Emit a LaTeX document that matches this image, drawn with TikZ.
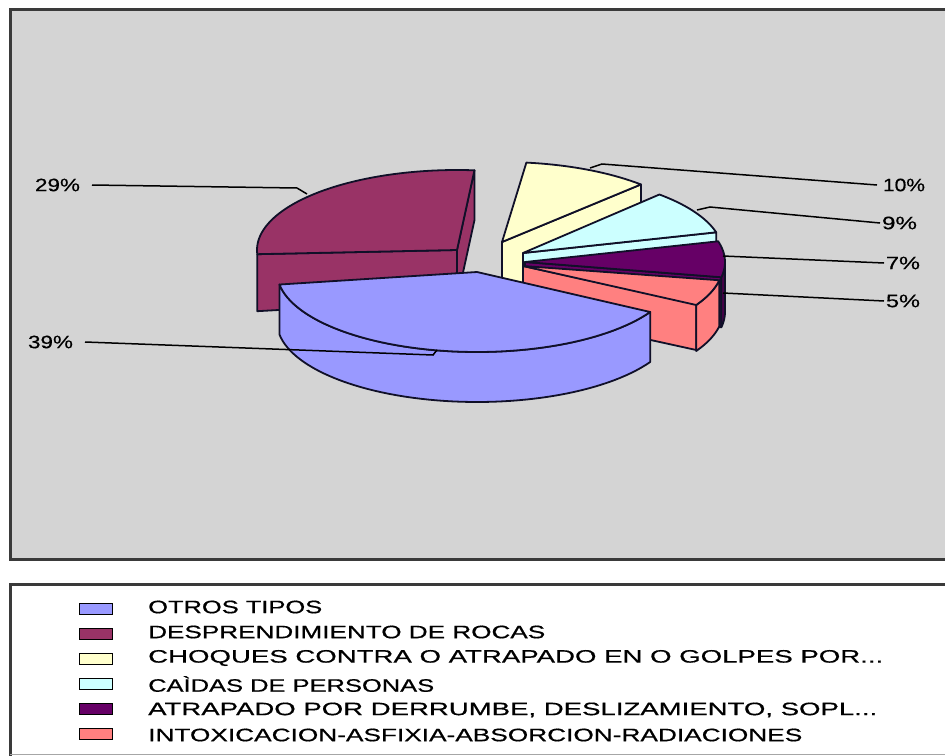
\documentclass[tikz,border=0pt]{standalone}
\usepackage{fontspec}
\setmainfont{Liberation Sans}[FakeBold=0.5]
\usepackage{graphicx}
\definecolor{bg}{HTML}{D4D4D4}
\definecolor{cblue}{HTML}{9999FF}
\definecolor{cmaroon}{HTML}{993366}
\definecolor{cyel}{HTML}{FFFFCC}
\definecolor{ccyan}{HTML}{CCFFFF}
\definecolor{cpurp}{HTML}{660066}
\definecolor{csalm}{HTML}{FF8080}
\definecolor{framec}{HTML}{3A3A3A}
\definecolor{edgec}{HTML}{101028}
\newcommand\pp[3]{({#1+200*cos(#3)},{#2+80*sin(#3)})}
\newcommand\ppd[3]{({#1+200*cos(#3)},{#2+50+80*sin(#3)})}
\newcommand\wtxt[2]{\resizebox{#1pt}{\height}{#2}}
\begin{document}
\begin{tikzpicture}[x=1pt,y=-1pt,
  face/.style={draw=edgec, line width=1.8pt, line join=round},
  lead/.style={draw=black, line width=1.5pt},
  lab/.style={inner sep=0pt, font=\fontsize{18}{20}\selectfont},
  legbox/.style={draw=black, line width=1.8pt, minimum width=33pt, minimum height=11pt, inner sep=0pt},
  legtext/.style={anchor=west, inner sep=0pt, font=\fontsize{18}{20}\selectfont}]
\useasboundingbox (0,0) rectangle (945,755);
\clip (0,0) rectangle (945,755);
\fill[white] (0,0) rectangle (945,755);
% plot area and legend frames
\draw[draw=framec, line width=3pt, fill=bg] (10,9) rectangle (980,559);
\draw[draw=framec, line width=3pt, fill=white] (10,584) rectangle (980,790);
\draw[draw=black!35, line width=1pt] (10,754) -- (945,754);

% ---- maroon (29%)
\draw[face, fill=cmaroon] (457,250) -- \pp{457}{250}{275} -- \ppd{457}{250}{275} -- (457,300) -- cycle;
\draw[face, fill=cmaroon] (457,250) -- \pp{457}{250}{177} -- ({457+200*cos(177)},{307+80*sin(177)}) -- (457,300) -- cycle;
\draw[face, fill=cmaroon] (457,250) -- plot[domain=177:275, samples=50] ({457+200*cos(\x)},{250+80*sin(\x)}) -- cycle;
% ---- yellow (10%)
\draw[face, fill=cyel] (502,242) -- \pp{502}{242}{314} -- \ppd{502}{242}{314} -- (502,292) -- cycle;
\draw[face, fill=cyel] (502,242) -- plot[domain=277:314, samples=20] ({502+200*cos(\x)},{242+80*sin(\x)}) -- cycle;
% ---- cyan (9%)
\draw[face, fill=ccyan] (523,253) -- \pp{523}{253}{345} -- \ppd{523}{253}{345} -- (523,303) -- cycle;
\draw[face, fill=ccyan] (523,253) -- plot[domain=313:345, samples=20] ({523+200*cos(\x)},{253+80*sin(\x)}) -- cycle;
% ---- purple (7%)
\draw[face, fill=cpurp] (525,262) -- \pp{525}{262}{371} -- \ppd{525}{262}{371} -- (525,312) -- cycle;
\draw[face, fill=cpurp!70!black] plot[domain=360:371, samples=10] ({525+200*cos(\x)},{262+80*sin(\x)}) -- plot[domain=371:360, samples=10] ({525+200*cos(\x)},{312+80*sin(\x)}) -- cycle;
\draw[face, fill=cpurp] (525,262) -- plot[domain=345:371, samples=20] ({525+200*cos(\x)},{262+80*sin(\x)}) -- cycle;
% ---- salmon (5%)
\draw[face, fill=csalm] (523,266) -- ({523+200*cos(390)},{264+80*sin(390)}) -- ({523+200*cos(390)},{310+80*sin(390)}) -- (523,312) -- cycle;
\draw[face, fill=csalm] plot[domain=371:390, samples=10] ({523+200*cos(\x)},{265+80*sin(\x)}) -- plot[domain=390:371, samples=10] ({523+200*cos(\x)},{311+80*sin(\x)}) -- cycle;
\draw[face, fill=csalm] (523,266) -- plot[domain=371:390, samples=15] ({523+200*cos(\x)},{265+80*sin(\x)}) -- cycle;
% ---- blue (39%)
\draw[face, fill=cblue] plot[domain=30:171, samples=60] ({477+200*cos(\x)},{272+80*sin(\x)}) -- plot[domain=171:30, samples=60] ({477+200*cos(\x)},{322+80*sin(\x)}) -- cycle;
\draw[face, fill=cblue] (477,272) -- plot[domain=30:171, samples=60] ({477+200*cos(\x)},{272+80*sin(\x)}) -- cycle;

% ---- leader lines and labels
\coordinate (m29) at (307,194);
\coordinate (m39) at (437,350);
\coordinate (m10) at (590,168);
\coordinate (m9) at (697,210);
\coordinate (m7) at (723,256);
\coordinate (m5) at (723,293);
\node[lab, outer xsep=12pt] (l29) at (57.5,185) {\wtxt{45}{29\%}};
\node[lab, outer xsep=12pt] (l39) at (50.5,342) {\wtxt{45}{39\%}};
\node[lab, outer xsep=6pt] (l10) at (904,185) {\wtxt{42}{10\%}};
\node[lab, outer xsep=2pt] (l9) at (899.5,223) {\wtxt{35}{9\%}};
\node[lab, outer xsep=2pt] (l7) at (903,263) {\wtxt{34}{7\%}};
\node[lab, outer xsep=2pt] (l5) at (903,301) {\wtxt{34}{5\%}};
\draw[lead] (l29.east) -- (297,188) -- (m29);
\draw[lead] (l39.east) -- (433,355) -- (m39);
\draw[lead] (m10) -- (602,164) -- (l10.west);
\draw[lead] (m9) -- (710,207) -- (l9.west);
\draw[lead] (m7) -- (l7.west);
\draw[lead] (m5) -- (l5.west);

% ---- legend
\node[legbox, fill=cblue] (k1) at (96,609) {};
\node[legbox, fill=cmaroon] (k2) at (96,634) {};
\node[legbox, fill=cyel] (k3) at (96,659) {};
\node[legbox, fill=ccyan] (k4) at (96,684) {};
\node[legbox, fill=cpurp] (k5) at (96,709) {};
\node[legbox, fill=csalm] (k6) at (96,734) {};
\node[legtext] (t1) at (148,607) {\wtxt{174}{OTROS TIPOS}};
\node[legtext] (t2) at (148,632) {\wtxt{397}{DESPRENDIMIENTO DE ROCAS}};
\node[legtext] (t3) at (148,658) {\wtxt{735}{CHOQUES CONTRA O ATRAPADO EN O GOLPES POR...}};
\node[legtext] (t4) at (148,684) {\wtxt{286}{CAÌDAS DE PERSONAS}};
\node[legtext] (t5) at (148,710) {\wtxt{729}{ATRAPADO POR DERRUMBE, DESLIZAMIENTO, SOPL...}};
\node[legtext] (t6) at (148,735) {\wtxt{654}{INTOXICACION-ASFIXIA-ABSORCION-RADIACIONES}};
\end{tikzpicture}
\end{document}
